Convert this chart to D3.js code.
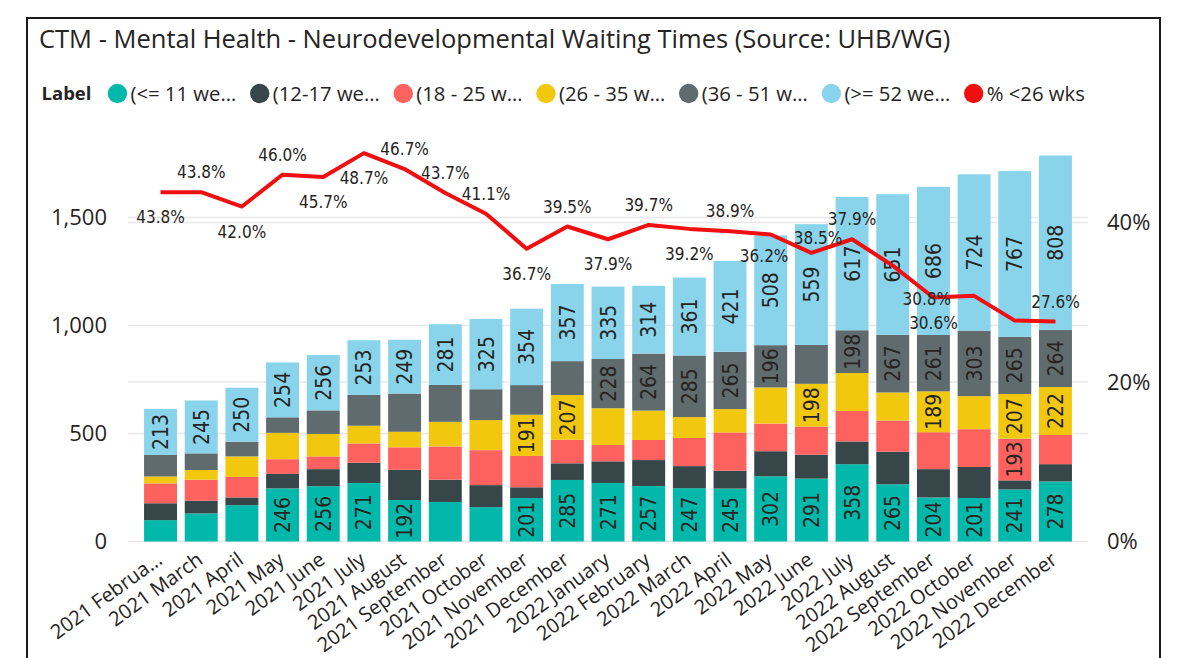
<!DOCTYPE html>
<html>
<head>
<meta charset="utf-8">
<script src="https://cdn.jsdelivr.net/npm/d3@7"></script>
<style>
  body { margin: 0; background: #fff; }
  svg { display: block; font-family: "Segoe UI", "Open Sans", sans-serif; }
</style>
</head>
<body>
<svg id="chart" width="1193" height="658"></svg>
<script>
// Waiting times by band, stacked per month, plus % seen under 26 weeks on a second axis.
const months = [
  "2021 February", "2021 March", "2021 April", "2021 May", "2021 June", "2021 July",
  "2021 August", "2021 September", "2021 October", "2021 November", "2021 December",
  "2022 January", "2022 February", "2022 March", "2022 April", "2022 May", "2022 June",
  "2022 July", "2022 August", "2022 September", "2022 October", "2022 November", "2022 December"
];

const seriesNames = ["(<= 11 weeks)", "(12-17 weeks)", "(18 - 25 weeks)", "(26 - 35 weeks)", "(36 - 51 weeks)", "(>= 52 weeks)"];
const seriesColors = ["#01B8AA", "#374649", "#FD625E", "#F2C80F", "#5F6B6D", "#8AD4EB"];

const upTo11 =   [99, 130, 168, 246, 256, 271, 192, 183, 159, 201, 285, 271, 257, 247, 245, 302, 291, 358, 265, 204, 201, 241, 278];
const w12to17 =  [78, 59, 36, 67, 79, 94, 140, 103, 102, 50, 77, 100, 120, 102, 83, 116, 111, 105, 151, 131, 144, 42, 80];
const w18to25 =  [92, 97, 95, 68, 59, 89, 104, 154, 162, 145, 109, 76, 93, 130, 177, 128, 130, 141, 144, 171, 175, 193, 135];
const w26to35 =  [32, 45, 95, 122, 104, 82, 72, 114, 139, 191, 207, 170, 136, 97, 108, 167, 198, 176, 130, 189, 153, 207, 222];
const w36to51 =  [100, 77, 68, 72, 109, 143, 177, 171, 143, 137, 157, 228, 264, 285, 265, 196, 180, 198, 267, 261, 303, 265, 264];
const over52 =   [213, 245, 250, 254, 256, 253, 249, 281, 325, 354, 357, 335, 314, 361, 421, 508, 559, 617, 651, 686, 724, 767, 808];

const lineName = "% <26 wks";
const pctUnder26 = [43.8, 43.8, 42.0, 46.0, 45.7, 48.7, 46.7, 43.7, 41.1, 36.7, 39.5, 37.9, 39.7, 39.2, 38.9, 38.5, 36.2, 37.9, 34.6, 30.6, 30.8, 27.7, 27.6];
// where Power BI put each line label (null = label hidden)
const labelSide = ["below", "above", "below", "above", "below", "below", "above", "above", "above", "below", "above",
  "below", "above", "below", "above", "right", "left", "above", null, "below", "left", null, "above"];

const leftTicks = [0, 500, 1000, 1500];
const rightTicks = [0, 20, 40];

const lineColor = "#F00F0F";
const textColor = "#252423";

const allSeries = [upTo11, w12to17, w18to25, w26to35, w36to51, over52];
const table = months.map((m, i) => {
  const row = { month: m };
  seriesNames.forEach((s, k) => row[s] = allSeries[k][i]);
  return row;
});

const svg = d3.select("#chart");

// frame
svg.append("rect")
  .attr("x", 27).attr("y", 18).attr("width", 1133).attr("height", 700)
  .attr("fill", "none").attr("stroke", "#1a1a1a").attr("stroke-width", 2);

svg.append("text")
  .attr("x", 39).attr("y", 47.5)
  .attr("font-size", 25.5).attr("fill", textColor)
  .text("CTM - Mental Health - Neurodevelopmental Waiting Times (Source: UHB/WG)");

const x = d3.scaleBand()
  .domain(months)
  .range([140.2, 1075.8])
  .paddingInner(0.19)
  .paddingOuter(0.095);

const y = d3.scaleLinear().domain([0, 2000]).range([541.5, 109.5]);
const yPct = d3.scaleLinear().domain([0, 50]).range([541.5, 142.75]);

const gridLeft = 128, gridRight = 1088;

// gridlines
svg.append("g").selectAll("line")
  .data(leftTicks.map(d => y(d)).concat(rightTicks.filter(d => d > 0).map(d => yPct(d))))
  .enter().append("line")
  .attr("x1", gridLeft).attr("x2", gridRight)
  .attr("y1", d => d).attr("y2", d => d)
  .attr("stroke", "#e8e8e8").attr("stroke-width", 1.5);

const leftAxis = svg.append("g")
  .attr("transform", `translate(${gridLeft},0)`)
  .call(d3.axisLeft(y).tickValues(leftTicks).tickSize(0).tickPadding(21).tickFormat(d3.format(",")));
const rightAxis = svg.append("g")
  .attr("transform", `translate(${gridRight},0)`)
  .call(d3.axisRight(yPct).tickValues(rightTicks).tickSize(0).tickPadding(19).tickFormat(d => d + "%"));
[leftAxis, rightAxis].forEach(a => {
  a.select(".domain").remove();
  a.selectAll("text").attr("font-size", 22).attr("fill", textColor)
    .attr("font-family", "\"Segoe UI\", \"Open Sans\", sans-serif");
});

// stacked bars
const stacked = d3.stack().keys(seriesNames)(table);

const layers = svg.append("g").selectAll("g")
  .data(stacked)
  .enter().append("g")
  .attr("fill", (d, i) => seriesColors[i]);

layers.selectAll("rect")
  .data(d => d)
  .enter().append("rect")
  .attr("x", d => x(d.data.month))
  .attr("y", d => y(d[1]))
  .attr("width", x.bandwidth())
  .attr("height", d => y(d[0]) - y(d[1]));

// segment labels, only where the value fits
layers.selectAll("text")
  .data(d => d.map(p => ({ p, v: p[1] - p[0] })))
  .enter()
  .filter(d => y(d.p[0]) - y(d.p[1]) >= 40)
  .append("text")
  .attr("transform", d => `translate(${x(d.p.data.month) + x.bandwidth() / 2},${(y(d.p[0]) + y(d.p[1])) / 2}) rotate(-90)`)
  .attr("text-anchor", "middle")
  .attr("dy", "0.36em")
  .attr("font-family", "\"Liberation Sans Narrow\", \"DejaVu Sans Condensed\", sans-serif")
  .attr("font-size", 21)
  .attr("fill", textColor)
  .text(d => d.v);

// x axis labels
const xAxis = svg.append("g")
  .attr("transform", "translate(0,541.5)")
  .call(d3.axisBottom(x).tickSize(0));
xAxis.select(".domain").remove();
xAxis.selectAll("text")
  .attr("font-size", 20).attr("fill", textColor)
  .attr("font-family", "\"Segoe UI\", \"Open Sans\", sans-serif")
  .attr("text-anchor", "end")
  .attr("x", 0).attr("y", 0).attr("dy", 0)
  .attr("transform", "translate(3,21) rotate(-36)");
// shorten labels that would run past the frame
xAxis.selectAll("text").each(function () {
  const t = d3.select(this);
  let s = t.text();
  while (this.getBoundingClientRect().left < 43 && s.length > 1) {
    s = s.slice(0, -1);
    t.text(s + "…");
  }
});

// percentage line
const cx = i => x(months[i]) + x.bandwidth() / 2;
const line = d3.line().x((d, i) => cx(i)).y(d => yPct(d));
svg.append("path")
  .datum(pctUnder26)
  .attr("d", line)
  .attr("fill", "none")
  .attr("stroke", lineColor)
  .attr("stroke-width", 4)
  .attr("stroke-linejoin", "round");

const labelOffset = {
  above: { dx: 0, dy: -20, anchor: "middle" },
  below: { dx: 0, dy: 25, anchor: "middle" },
  left: { dx: -23, dy: 3, anchor: "end" },
  right: { dx: 23, dy: 3, anchor: "start" }
};
svg.append("g").selectAll("text")
  .data(pctUnder26.map((v, i) => ({ v, i, side: labelSide[i] })).filter(d => d.side))
  .enter().append("text")
  .attr("x", d => cx(d.i) + labelOffset[d.side].dx)
  .attr("y", d => yPct(d.v) + labelOffset[d.side].dy)
  .attr("dy", "0.36em")
  .attr("text-anchor", d => labelOffset[d.side].anchor)
  .attr("font-family", "\"DejaVu Sans Condensed\", sans-serif")
  .attr("font-size", 17)
  .attr("fill", textColor)
  .text(d => d.v.toFixed(1) + "%");

// legend
const legend = svg.append("g").attr("transform", "translate(0,93.5)");
const legendTitle = legend.append("text")
  .attr("x", 41.5).attr("dy", "0.35em")
  .attr("font-size", 18.5).attr("font-weight", "bold").attr("fill", textColor)
  .text("Label");

const legendItems = seriesNames.map((s, i) => ({ name: s, color: seriesColors[i] }))
  .concat([{ name: lineName, color: lineColor }]);
const maxLegendText = 113;
let lx = 41.5 + legendTitle.node().getComputedTextLength() + 26;
legendItems.forEach(item => {
  legend.append("circle").attr("cx", lx).attr("cy", 0).attr("r", 9.7).attr("fill", item.color);
  const t = legend.append("text")
    .attr("x", lx + 13).attr("dy", "0.35em")
    .attr("font-size", 20.3).attr("fill", textColor)
    .text(item.name);
  let s = item.name;
  while (t.node().getComputedTextLength() > maxLegendText && s.length > 1) {
    s = s.slice(0, -1).trimEnd();
    t.text(s + "…");
  }
  lx += 13 + t.node().getComputedTextLength() + 23.5;
});
</script>
</body>
</html>
